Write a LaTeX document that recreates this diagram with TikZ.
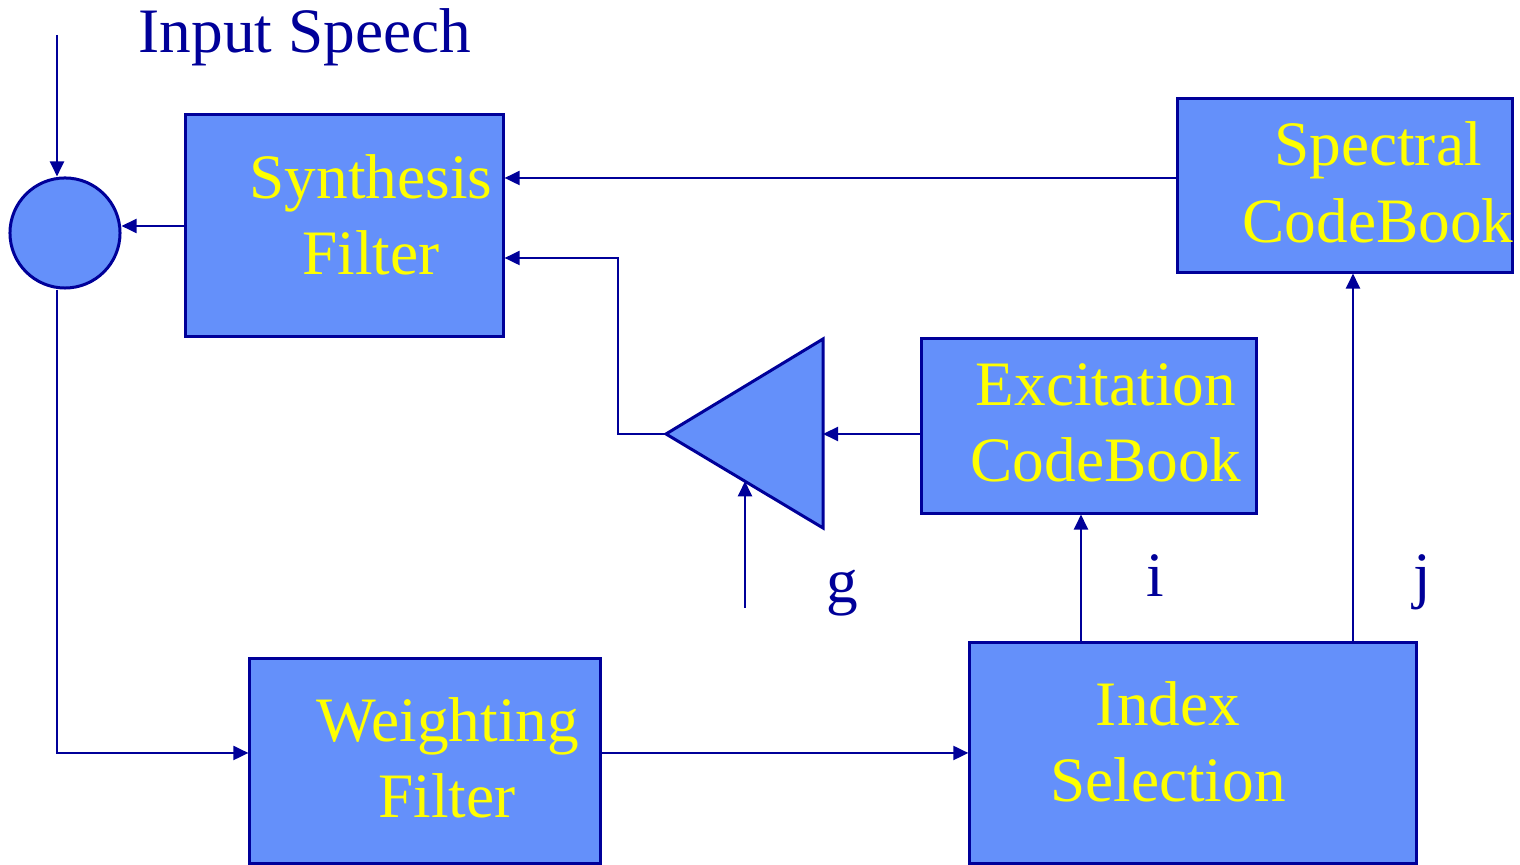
\documentclass[tikz,border=0pt]{standalone}
\usepackage{fontspec}
\setmainfont{Liberation Serif}
\usetikzlibrary{arrows.meta,calc}
\definecolor{navy}{RGB}{0,0,153}
\definecolor{blockfill}{RGB}{100,144,250}
\definecolor{labelyellow}{RGB}{255,255,0}

\begin{document}
\begin{tikzpicture}[x=0.01cm,y=-0.01cm,
  blk/.style={draw=navy, fill=blockfill, line width=0.03cm, inner sep=0pt},
  blktext/.style={text=labelyellow, anchor=base, inner sep=0pt,
    font=\fontsize{18pt}{21.6pt}\selectfont},
  sig/.style={text=navy, anchor=base, inner sep=0pt,
    font=\fontsize{18pt}{21.6pt}\selectfont},
  arr/.style={draw=navy, line width=0.02cm,
    -{Triangle[length=0.15cm,width=0.14cm]}},
  wire/.style={draw=navy, line width=0.02cm}]

\useasboundingbox (0,0) rectangle (1520,865);

% blocks
\node[blk, minimum width=3.17cm, minimum height=2.21cm] (syn)  at (344.5,225.5) {};
\node[blk, minimum width=3.34cm, minimum height=1.73cm] (spec) at (1345,185.5) {};
\node[blk, minimum width=3.34cm, minimum height=1.74cm] (exc)  at (1089,426) {};
\node[blk, minimum width=3.50cm, minimum height=2.04cm] (wf)   at (425,761) {};
\node[blk, minimum width=4.46cm, minimum height=2.20cm] (idx)  at (1193,753) {};
\node[blk, circle, minimum size=1.10cm] (sum) at (65,233) {};

% gain stage
\coordinate (ampA) at (666,434);
\coordinate (ampT) at (823,339);
\coordinate (ampB) at (823,528);
\coordinate (ampR) at (823,434);
\draw[blk, line join=miter] (ampA) -- (ampT) -- (ampB) -- cycle;

% block labels
\node[blktext] (synA)  at (371,199)  {Synthesis};
\node[blktext] (synB)  at (371,275)  {Filter};
\node[blktext] (specA) at (1378,166) {Spectral};
\node[blktext] (specB) at (1378,243) {CodeBook};
\node[blktext] (excA)  at (1106,406) {Excitation};
\node[blktext] (excB)  at (1106,482) {CodeBook};
\node[blktext] (wfA)   at (448,742)  {Weighting};
\node[blktext] (wfB)   at (447,818)  {Filter};
\node[blktext] (idxA)  at (1168,726) {Index};
\node[blktext] (idxB)  at (1168,802) {Selection};

% signal labels
\node[sig] (speech) at (305,53)  {Input Speech};
\node[sig] (lg)     at (842,603) {g};
\node[sig] (li)     at (1155,597) {i};
\node[sig] (lj)     at (1422,597) {j};

% connectors
\coordinate (speechin) at (57,35);
\draw[arr] (speechin) -- (speechin |- sum.north);
\draw[arr] (syn.west |- 0,226) -- (sum.east |- 0,226);
\draw[arr] (spec.west |- 0,178) -- (syn.east |- 0,178);
\coordinate (fbk) at (618,434);
\draw[arr] (ampA) -- (fbk) |- (syn.east |- 0,258);
\draw[arr] (exc.west |- ampR) -- (ampR);
\coordinate (gin) at (745,608);
\coordinate (gtip) at ($(ampA)!0.503!(ampB)$);
\draw[arr] (gin) -- (gin |- gtip);
\draw[arr] (speechin |- sum.south) -- (57,753) -- (wf.west |- 0,753);
\draw[arr] (wf.east |- 0,753) -- (idx.west |- 0,753);
\draw[arr] (idx.north -| 1081,0) -- (exc.south -| 1081,0);
\draw[arr] (idx.north -| 1353,0) -- (spec.south -| 1353,0);

\end{tikzpicture}
\end{document}
